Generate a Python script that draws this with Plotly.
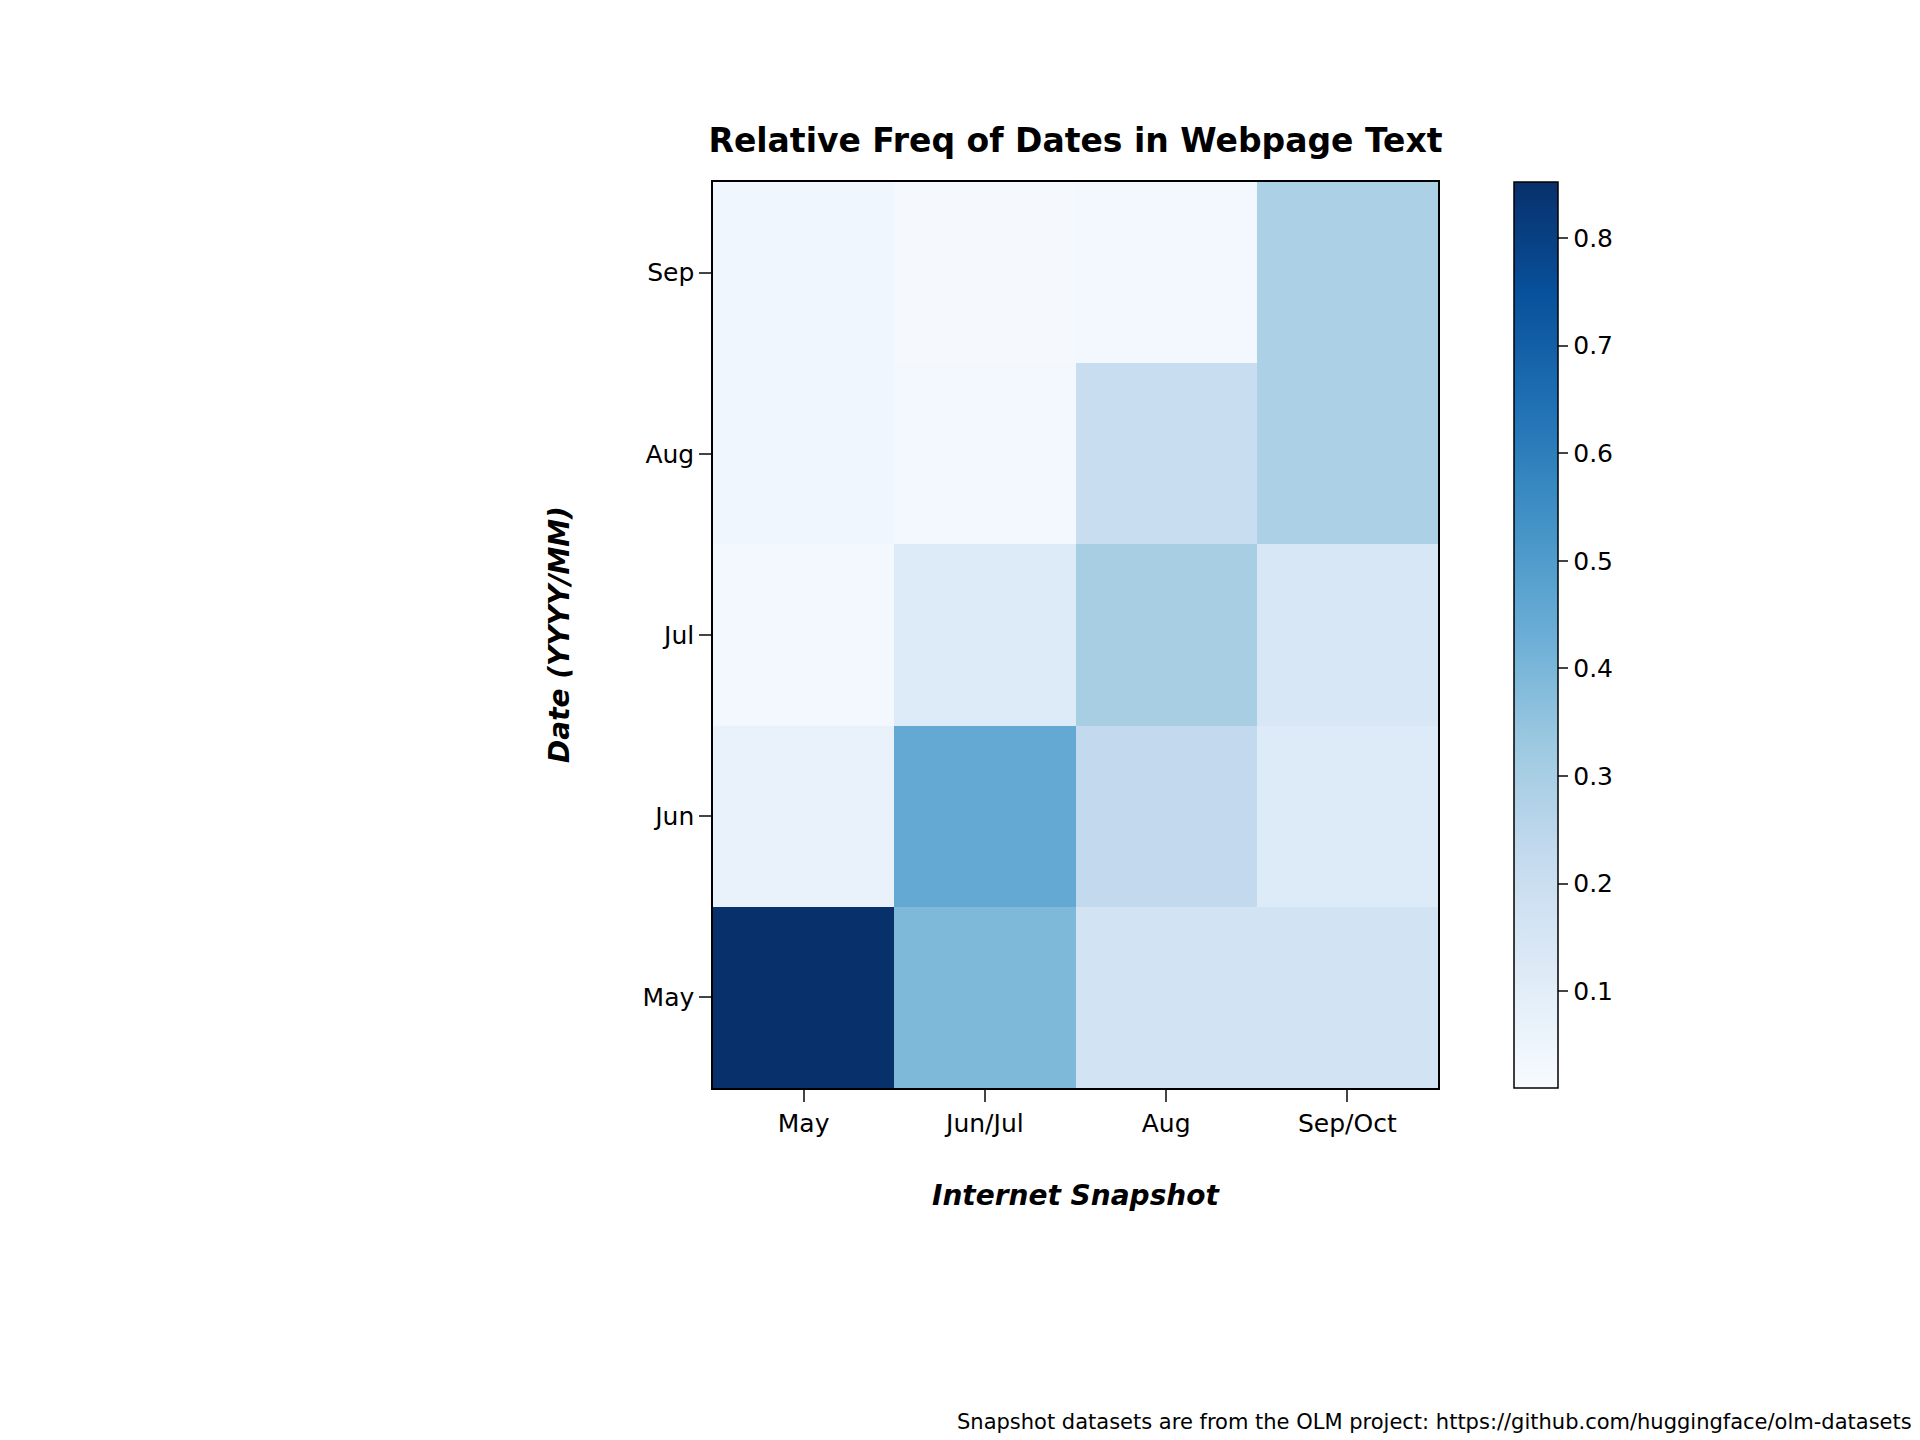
import plotly.graph_objects as go

snapshots = ["May", "Jun/Jul", "Aug", "Sep/Oct"]
dates = ["May", "Jun", "Jul", "Aug", "Sep"]
freq = [
    [0.85, 0.39, 0.17, 0.17],
    [0.07, 0.45, 0.23, 0.12],
    [0.03, 0.12, 0.30, 0.14],
    [0.04, 0.03, 0.21, 0.29],
    [0.04, 0.02, 0.03, 0.29],
]
cbar_ticks = [0.1, 0.2, 0.3, 0.4, 0.5, 0.6, 0.7, 0.8]

blues = ["#f7fbff", "#deebf7", "#c6dbef", "#9ecae1", "#6baed6",
         "#4292c6", "#2171b5", "#08519c", "#08306b"]
cs = [[i / 8, c] for i, c in enumerate(blues)]

W, H = 1920, 1440
x0, x1, y0, y1 = 705, 1430, 174, 1080
pw, ph = x1 - x0, y1 - y0

fig = go.Figure(go.Heatmap(
    z=freq, x=snapshots, y=dates, colorscale=cs, zmin=0.01, zmax=0.852,
    colorbar=dict(
        x=(1506 - x0) / pw, xanchor="left", xpad=0, ypad=0,
        y=0, yanchor="bottom", len=1, lenmode="fraction",
        thickness=44, thicknessmode="pixels",
        tickvals=cbar_ticks, ticks="outside", ticklen=10, tickwidth=1.5,
        tickfont=dict(size=25, color="black"),
        outlinewidth=1.5, outlinecolor="black",
    ),
))
fig.update_layout(
    width=W, height=H, plot_bgcolor="white", paper_bgcolor="white",
    font=dict(family="DejaVu Sans", color="black"),
    margin=dict(l=x0, r=W - x1, t=y0, b=H - y1, autoexpand=False),
    title=dict(text="<b>Relative Freq of Dates in Webpage Text</b>",
               x=(x0 + x1) / 2 / W, xanchor="center", y=1 - 132 / H, yanchor="middle",
               font=dict(size=33)),
    xaxis=dict(ticks="outside", ticklen=12, tickwidth=1.5, tickfont=dict(size=25),
               showline=True, linecolor="black", linewidth=1.5, mirror=True),
    yaxis=dict(ticks="outside", ticklen=12, tickwidth=1.5, tickfont=dict(size=25),
               showline=True, linecolor="black", linewidth=1.5, mirror=True),
    annotations=[
        dict(text="<b><i>Internet Snapshot</i></b>", xref="paper", yref="paper",
             x=0.5, y=-(1187 - y1) / ph, xanchor="center", yanchor="middle",
             showarrow=False, font=dict(size=28)),
        dict(text="<b><i>Date (YYYY/MM)</i></b>", xref="paper", yref="paper",
             x=-(705 - 551) / pw, y=0.5, xanchor="center", yanchor="middle", textangle=-90,
             showarrow=False, font=dict(size=28)),
        dict(text="Snapshot datasets are from the OLM project: https://github.com/huggingface/olm-datasets.",
             xref="paper", yref="paper", x=(1912 - x0) / pw, xanchor="right",
             y=-(1414 - y1) / ph, yanchor="middle", showarrow=False,
             font=dict(size=21)),
    ],
)
fig.write_html("out.html")
